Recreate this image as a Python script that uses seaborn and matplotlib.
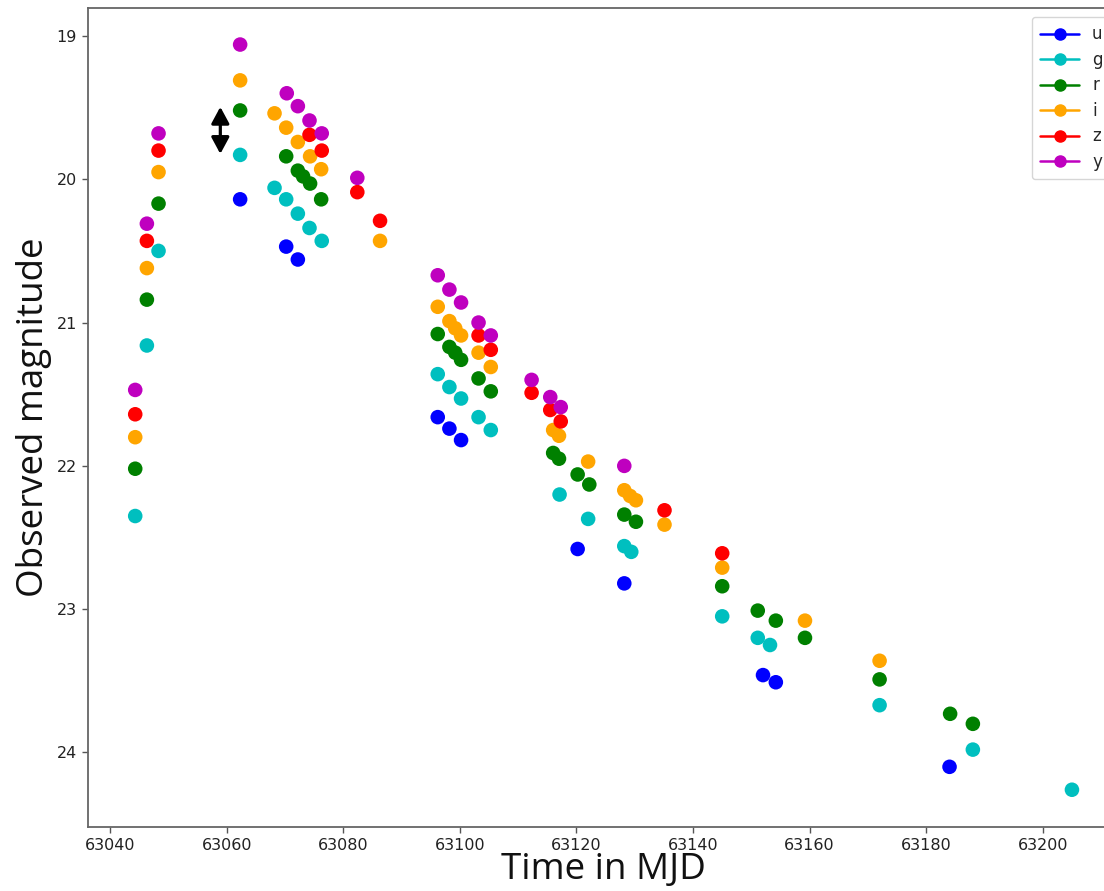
import matplotlib
matplotlib.use("Agg")
import matplotlib.pyplot as plt
from matplotlib.lines import Line2D
import seaborn as sns
import pandas as pd

# ---- data ----
bands = ["u", "g", "r", "i", "z", "y"]
band_colors = ["#0000ff", "#00bfbf", "#008000", "#ffa500", "#ff0000", "#bf00bf"]

u_t = [63062.3, 63070.2, 63072.2, 63096.2, 63098.2, 63100.2, 63120.2, 63128.2, 63152.0, 63154.2, 63184.0]
u_m = [20.14, 20.47, 20.56, 21.66, 21.74, 21.82, 22.58, 22.82, 23.46, 23.51, 24.10]

g_t = [63044.3, 63046.3, 63048.3, 63062.3, 63068.2, 63070.2, 63072.2, 63074.2, 63076.3,
       63096.2, 63098.2, 63100.2, 63103.2, 63105.3, 63117.1, 63122.0, 63128.2, 63129.4,
       63145.0, 63151.1, 63153.2, 63172.0, 63188.0, 63205.0]
g_m = [22.35, 21.16, 20.50, 19.83, 20.06, 20.14, 20.24, 20.34, 20.43,
       21.36, 21.45, 21.53, 21.66, 21.75, 22.20, 22.37, 22.56, 22.60,
       23.05, 23.20, 23.25, 23.67, 23.98, 24.26]

r_t = [63044.3, 63046.3, 63048.3, 63062.3, 63070.2, 63072.2, 63073.1, 63074.3, 63076.2,
       63096.2, 63098.2, 63099.2, 63100.2, 63103.2, 63105.3, 63116.0, 63117.0, 63120.2,
       63122.2, 63128.2, 63130.2, 63145.0, 63151.1, 63154.2, 63159.2, 63172.0, 63184.1, 63188.0]
r_m = [22.02, 20.84, 20.17, 19.52, 19.84, 19.94, 19.98, 20.03, 20.14,
       21.08, 21.17, 21.21, 21.26, 21.39, 21.48, 21.91, 21.95, 22.06,
       22.13, 22.34, 22.39, 22.84, 23.01, 23.08, 23.20, 23.49, 23.73, 23.80]

i_t = [63044.3, 63046.3, 63048.3, 63062.3, 63068.2, 63070.2, 63072.2, 63074.3, 63076.2,
       63086.3, 63096.2, 63098.2, 63099.2, 63100.2, 63103.2, 63105.3, 63116.0, 63117.0,
       63122.0, 63128.2, 63129.2, 63130.2, 63135.1, 63145.0, 63159.2, 63172.0]
i_m = [21.80, 20.62, 19.95, 19.31, 19.54, 19.64, 19.74, 19.84, 19.93,
       20.43, 20.89, 20.99, 21.04, 21.09, 21.21, 21.31, 21.75, 21.79,
       21.97, 22.17, 22.21, 22.24, 22.41, 22.71, 23.08, 23.36]

z_t = [63044.3, 63046.3, 63048.3, 63074.2, 63076.3, 63082.4, 63086.3, 63103.2, 63105.3,
       63112.3, 63115.5, 63117.3, 63135.1, 63145.0]
z_m = [21.64, 20.43, 19.80, 19.69, 19.80, 20.09, 20.29, 21.09, 21.19,
       21.49, 21.61, 21.69, 22.31, 22.61]

y_t = [63044.3, 63046.3, 63048.3, 63062.3, 63070.3, 63072.2, 63074.2, 63076.3, 63082.4,
       63096.2, 63098.2, 63100.2, 63103.2, 63105.3, 63112.3, 63115.5, 63117.3, 63128.2]
y_m = [21.47, 20.31, 19.68, 19.06, 19.40, 19.49, 19.59, 19.68, 19.99,
       20.67, 20.77, 20.86, 21.00, 21.09, 21.40, 21.52, 21.59, 22.00]

arrow_t = 63058.9
arrow_m_top = 19.495
arrow_m_bottom = 19.823

x_ticks = [63040, 63060, 63080, 63100, 63120, 63140, 63160, 63180, 63200]
y_ticks = [19, 20, 21, 22, 23, 24]

# ---- build table ----
times = [u_t, g_t, r_t, i_t, z_t, y_t]
mags = [u_m, g_m, r_m, i_m, z_m, y_m]
frames = [pd.DataFrame({"t": t, "m": m, "band": b}) for t, m, b in zip(times, mags, bands)]
df = pd.concat(frames, ignore_index=True)
palette = dict(zip(bands, band_colors))

sns.set_theme(style="white")
plt.rcParams["font.family"] = ["DejaVu Sans"]

W, H = 1104, 891
fig = plt.figure(figsize=(W / 100, H / 100), dpi=100)
ax_left, ax_right_px, ax_top, ax_bot = 88, 1118, 8, 827
ax = fig.add_axes([ax_left / W, 1 - ax_bot / H, (ax_right_px - ax_left) / W, (ax_bot - ax_top) / H])

sns.scatterplot(data=df, x="t", y="m", hue="band", palette=palette, s=110,
                edgecolor="none", linewidth=0, legend=False, ax=ax, zorder=3)

ax.set_xlim(63036.2, 63212.9)
ax.set_ylim(24.52, 18.805)
ax.set_xticks(x_ticks)
ax.set_yticks(y_ticks)
ax.tick_params(axis="both", which="major", labelsize=11.5, length=4, width=1,
               color="#555555", labelcolor="#222222", bottom=True, left=True, pad=4)
for side in ["left", "bottom", "top", "right"]:
    ax.spines[side].set_color("#666666")
    ax.spines[side].set_linewidth(1.3)

ax.set_xlabel("Time in MJD", fontsize=26.5, family=["Open Sans", "DejaVu Sans"], labelpad=-1, color="#111111")
ax.set_ylabel("Observed magnitude", fontsize=26.5, family=["Open Sans", "DejaVu Sans"], labelpad=3, color="#111111")

ax.annotate("", xy=(arrow_t, arrow_m_top), xytext=(arrow_t, arrow_m_bottom),
            arrowprops=dict(arrowstyle="<|-|>,head_length=0.5,head_width=0.27",
                            mutation_scale=20, lw=2.3, color="black",
                            shrinkA=0, shrinkB=0), zorder=4)

handles = [Line2D([0], [0], color=c, marker="o", markersize=8, lw=1.8, label=b)
           for b, c in zip(bands, band_colors)]
leg = ax.legend(handles=handles, loc="upper left",
                bbox_to_anchor=(1032 / W, 1 - 17 / H), bbox_transform=fig.transFigure,
                fontsize=12, handlelength=2.3, labelspacing=0.45, frameon=True,
                borderaxespad=0, borderpad=0.5)
leg.get_frame().set_edgecolor("#cccccc")

fig.savefig("out.png", dpi=100)
